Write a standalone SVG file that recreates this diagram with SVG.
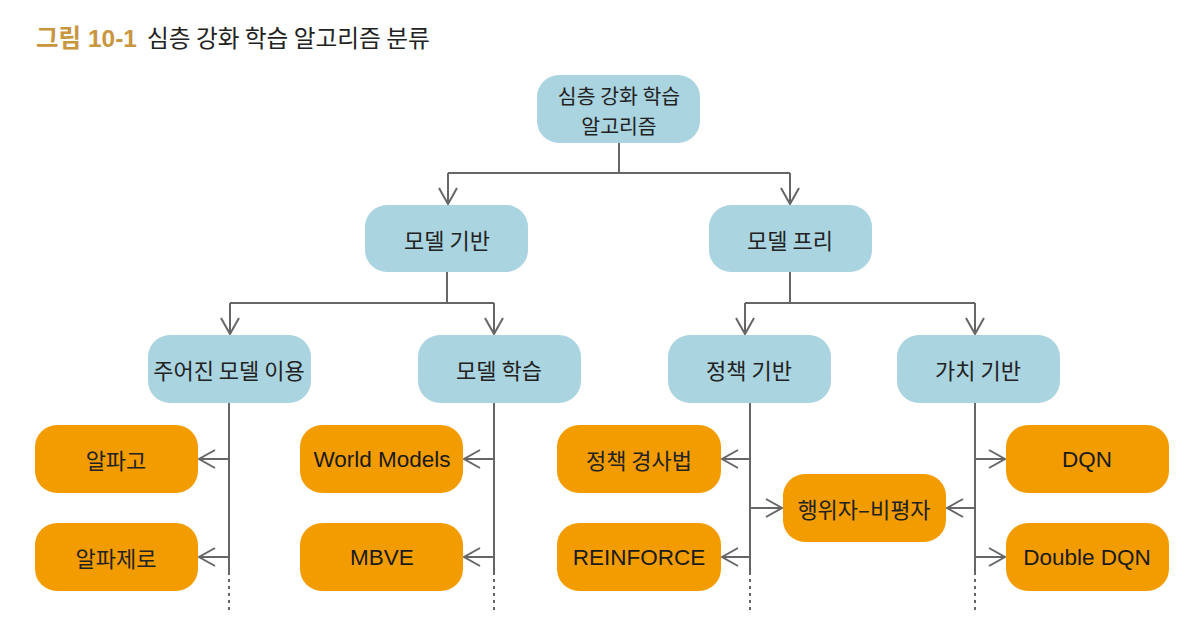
<svg xmlns="http://www.w3.org/2000/svg" width="1196" height="633" viewBox="0 0 1196 633">
<defs>
<marker id="ah" markerWidth="20" markerHeight="20" viewBox="-18 -10 20 20" refX="0" refY="0" orient="auto" markerUnits="userSpaceOnUse">
<path d="M-16,-9 L0,0 L-16,9" fill="none" stroke="#666" stroke-width="2"/>
</marker>
</defs>
<style>
.b{fill:#aad4e0}
.o{fill:#f39c00}
.t{font-family:"Noto Sans CJK KR","Noto Sans",sans-serif;font-size:22px;fill:#222;text-anchor:middle;dominant-baseline:central}
.e{font-family:"Liberation Sans","Noto Sans CJK KR",sans-serif;font-size:22.5px;fill:#1a1a1a;text-anchor:middle;dominant-baseline:central}
.l{fill:none;stroke:#666;stroke-width:2}
.a{fill:none;stroke:#666;stroke-width:2;marker-end:url(#ah)}
.d{fill:none;stroke:#666;stroke-width:2;stroke-dasharray:3,4}
</style>
<rect width="1196" height="633" fill="#fff"/>
<text x="36" y="47" font-family="'Liberation Sans','Noto Sans CJK KR',sans-serif" font-size="24.5" font-weight="bold" fill="#c8963e">그림 10-1</text>
<text x="147" y="47" font-family="'Noto Sans CJK KR',sans-serif" font-size="23.7" fill="#222">심층 강화 학습 알고리즘 분류</text>
<g id="connectors">
<path class="l" d="M619,143 V173 M448,173 H790"/>
<path class="a" d="M448,173 V204"/>
<path class="a" d="M790,173 V204"/>
<path class="l" d="M447,272 V303 M230,303 H494"/>
<path class="a" d="M230,303 V334"/>
<path class="a" d="M494,303 V334"/>
<path class="l" d="M790,272 V303 M745,303 H975"/>
<path class="a" d="M745,303 V334"/>
<path class="a" d="M975,303 V334"/>
<path class="l" d="M229,403 V575"/>
<path class="d" d="M229,579 V612"/>
<path class="a" d="M229,459 H199"/>
<path class="a" d="M229,557 H199"/>
<path class="l" d="M494,403 V575"/>
<path class="d" d="M494,579 V612"/>
<path class="a" d="M494,459 H464"/>
<path class="a" d="M494,557 H464"/>
<path class="l" d="M750,403 V575"/>
<path class="d" d="M750,579 V612"/>
<path class="a" d="M750,459 H722"/>
<path class="a" d="M750,557 H722"/>
<path class="a" d="M750,508 H782"/>
<path class="l" d="M975,403 V575"/>
<path class="d" d="M975,579 V612"/>
<path class="a" d="M975,508 H947"/>
<path class="a" d="M975,459 H1005"/>
<path class="a" d="M975,557 H1005"/>
</g>
<g id="root"><rect class="b" x="537" y="75" width="163" height="68" rx="22"/><text class="t" x="619" y="94.5" style="font-size:20.5px">심층 강화 학습</text><text class="t" x="619" y="124.5" style="font-size:20.5px">알고리즘</text></g>
<g id="model-based"><rect class="b" x="365" y="205" width="163" height="67" rx="22"/><text class="t" x="447" y="239">모델 기반</text></g>
<g id="model-free"><rect class="b" x="709" y="205" width="163" height="67" rx="22"/><text class="t" x="790" y="239">모델 프리</text></g>
<g id="given-model"><rect class="b" x="148" y="335" width="163" height="68" rx="22"/><text class="t" x="229" y="369">주어진 모델 이용</text></g>
<g id="learn-model"><rect class="b" x="418" y="335" width="163" height="68" rx="22"/><text class="t" x="499" y="369">모델 학습</text></g>
<g id="policy-based"><rect class="b" x="668" y="335" width="163" height="68" rx="22"/><text class="t" x="749" y="369">정책 기반</text></g>
<g id="value-based"><rect class="b" x="897" y="335" width="163" height="68" rx="22"/><text class="t" x="978" y="369">가치 기반</text></g>
<g id="alphago"><rect class="o" x="35" y="425" width="163" height="68" rx="22"/><text class="t" x="116" y="459">알파고</text></g>
<g id="alphazero"><rect class="o" x="35" y="523" width="163" height="68" rx="22"/><text class="t" x="116" y="557">알파제로</text></g>
<g id="world-models"><rect class="o" x="300" y="425" width="163" height="68" rx="22"/><text class="e" x="382" y="459">World Models</text></g>
<g id="mbve"><rect class="o" x="300" y="523" width="163" height="68" rx="22"/><text class="e" x="382" y="557">MBVE</text></g>
<g id="policy-gradient"><rect class="o" x="557" y="425" width="164" height="68" rx="22"/><text class="t" x="639" y="459">정책 경사법</text></g>
<g id="reinforce"><rect class="o" x="557" y="523" width="164" height="68" rx="22"/><text class="e" x="639" y="557">REINFORCE</text></g>
<g id="actor-critic"><rect class="o" x="783" y="474" width="163" height="68" rx="22"/><text class="t" x="864" y="508">행위자–비평자</text></g>
<g id="dqn"><rect class="o" x="1006" y="425" width="163" height="68" rx="22"/><text class="e" x="1087" y="459">DQN</text></g>
<g id="double-dqn"><rect class="o" x="1006" y="523" width="163" height="68" rx="22"/><text class="e" x="1087" y="557">Double DQN</text></g>
</svg>
